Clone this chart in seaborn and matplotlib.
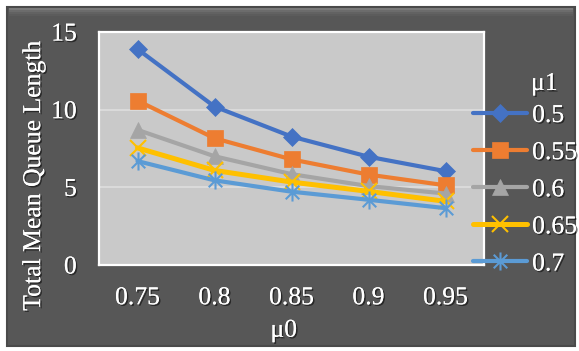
import matplotlib
matplotlib.use("Agg")
import matplotlib.pyplot as plt
import matplotlib.patheffects as pe
from matplotlib.patches import Rectangle
from matplotlib.path import Path
import seaborn as sns

# Service rate of queue 0 (x axis) and of queue 1 (one line per value)
mu0 = [0.75, 0.80, 0.85, 0.90, 0.95]
mu0_labels = ["0.75", "0.8", "0.85", "0.9", "0.95"]
mu1_labels = ["0.5", "0.55", "0.6", "0.65", "0.7"]

# Total mean queue length for each mu1 series
L_05 = [13.9, 10.2, 8.27, 6.97, 6.04]
L_055 = [10.58, 8.16, 6.8, 5.82, 5.13]
L_06 = [8.7, 7.0, 5.85, 5.08, 4.6]
L_065 = [7.54, 6.09, 5.34, 4.74, 4.1]
L_07 = [6.69, 5.45, 4.72, 4.2, 3.66]
series = [L_05, L_055, L_06, L_065, L_07]

colors = ["#4472C4", "#ED7D31", "#A5A5A5", "#FFC000", "#5B9BD5"]

# asterisk marker: vertical stroke plus an X
star = Path(
    [(0, -1), (0, 1), (-0.75, -0.75), (0.75, 0.75), (-0.75, 0.75), (0.75, -0.75)],
    [Path.MOVETO, Path.LINETO, Path.MOVETO, Path.LINETO, Path.MOVETO, Path.LINETO],
)
marker_styles = [
    dict(marker="D", markersize=9, markerfacecolor=colors[0], markeredgecolor=colors[0], markeredgewidth=0.5),
    dict(marker="s", markersize=11.5, markerfacecolor=colors[1], markeredgecolor=colors[1], markeredgewidth=0.5),
    dict(marker="^", markersize=11, markerfacecolor=colors[2], markeredgecolor=colors[2], markeredgewidth=0.5),
    dict(marker="x", markersize=11, markerfacecolor="none", markeredgecolor=colors[3], markeredgewidth=1.5),
    dict(marker=star, markersize=13, markerfacecolor="none", markeredgecolor=colors[4], markeredgewidth=1.5),
]
line_widths = [3.0, 3.0, 3.0, 3.6, 3.0]

sns.set_style("white")
plt.rcParams["font.family"] = ["Liberation Serif", "DejaVu Serif"]

W, H, DPI = 579, 351, 100
fig = plt.figure(figsize=(W / DPI, H / DPI), dpi=DPI, facecolor="white")

# dark chart frame with a lighter bevelled top edge
fig.patches.append(Rectangle((7 / W, 5 / H), 568 / W, 339 / H, transform=fig.transFigure,
                             facecolor="#575757", edgecolor="#4a4a4a", lw=1.5, zorder=-10))
for i, c in enumerate(["#7a7a7a", "#6c6c6c", "#626262", "#5c5c5c"]):
    fig.patches.append(Rectangle((9 / W, (H - 10 - 2 * i) / H), 564 / W, 2 / H, transform=fig.transFigure,
                                 facecolor=c, edgecolor="none", zorder=-9))

ax = fig.add_axes([99 / W, (H - 265) / H, 385 / W, 233 / H])
ax.set_zorder(2)
ax.set_facecolor("#C9C9C9")

for vals, lab, col, ms, lw in zip(series, mu1_labels, colors, marker_styles, line_widths):
    sns.lineplot(x=mu0, y=vals, ax=ax, color=col, lw=lw, label=lab, **ms)

ax.set_xlim(0.725, 0.975)
ax.set_ylim(0, 15)
ax.set_xticks(mu0)
ax.set_xticklabels(mu0_labels)
ax.set_yticks([0, 5, 10, 15])
ax.yaxis.grid(True, color="#DEDEDE", lw=1.2)
ax.set_axisbelow(True)
for s in ax.spines.values():
    s.set_color("white")
    s.set_linewidth(1.6)

shadow = [pe.withSimplePatchShadow(offset=(1.1, -1.1), shadow_rgbFace="black", alpha=0.55), pe.Normal()]
fs = 18.5
ax.tick_params(axis="both", length=0, labelsize=fs, labelcolor="white")
ax.tick_params(axis="y", pad=16)
ax.tick_params(axis="x", pad=16)
for t in ax.get_xticklabels() + ax.get_yticklabels():
    t.set_path_effects(shadow)

ax.set_xlabel("μ0", fontsize=fs, color="white", path_effects=shadow)
ax.set_ylabel("Total Mean Queue Length", fontsize=fs, color="white", path_effects=shadow)
ax.xaxis.set_label_coords(0.48, -0.235)
ax.yaxis.set_label_coords(-0.14, 0.385)

leg = ax.legend(loc="upper left", frameon=False, fontsize=fs,
                handlelength=2.1, handletextpad=0.2, labelspacing=0.55, borderaxespad=0, borderpad=0)
leg.set_bbox_to_anchor((473 / W, (H - 104) / H), transform=fig.transFigure)
for t in leg.get_texts():
    t.set_color("white")
    t.set_path_effects(shadow)

# legend heading, aligned with the entry labels
fig.text(531 / W, (H - 84) / H, "μ1", fontsize=fs, color="white", ha="left", va="center",
         path_effects=shadow, zorder=5)

fig.savefig("out.png", dpi=DPI, facecolor="white")
